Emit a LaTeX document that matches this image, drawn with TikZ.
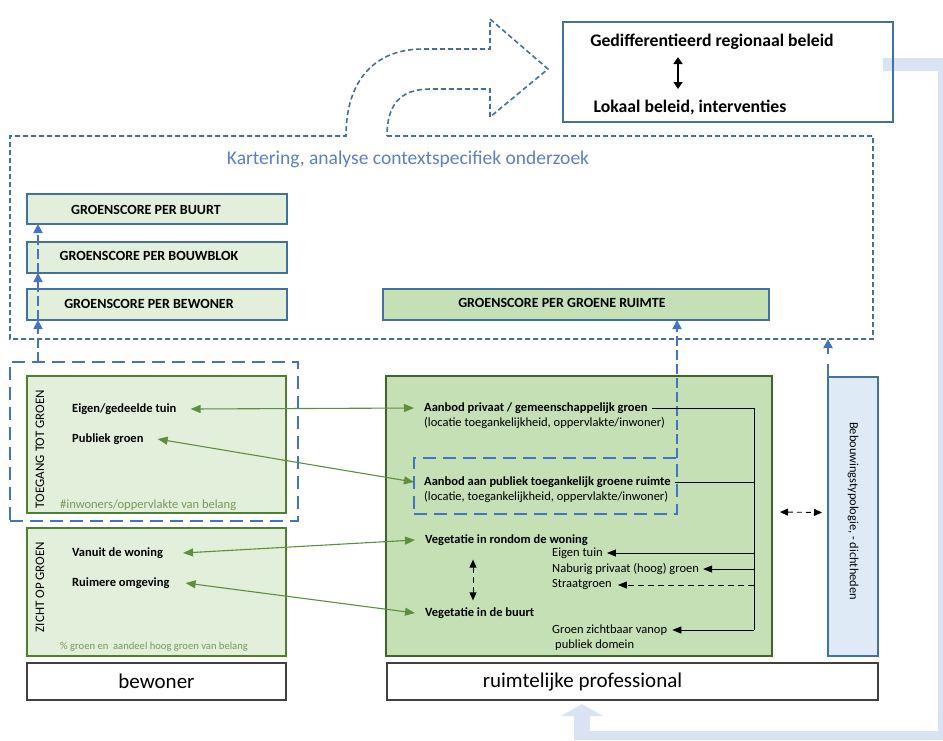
\documentclass[tikz,border=0pt]{standalone}
\usepackage{fontspec}
\setmainfont{Carlito}
\usetikzlibrary{arrows.meta}
\definecolor{steel}{HTML}{41719C}
\definecolor{bblue}{HTML}{4472C4}
\definecolor{kart}{HTML}{5B7FC9}
\definecolor{lgreen}{HTML}{E2EFDA}
\definecolor{mgreen}{HTML}{C5E0B4}
\definecolor{dgreen}{HTML}{507E32}
\definecolor{agreen}{HTML}{5F8F3E}
\definecolor{tgreen}{HTML}{769A58}
\definecolor{lblue}{HTML}{DEEBF7}
\definecolor{bandc}{HTML}{DAE3F3}
\definecolor{framec}{HTML}{404040}
\begin{document}
\begin{tikzpicture}[x=1pt,y=-1pt,
  box/.style={draw, inner sep=0pt, outer sep=0pt},
  scbox/.style={box, draw=steel, line width=1.8pt, fill=lgreen},
  scboxd/.style={box, draw=steel, line width=1.8pt, fill=mgreen},
  gbox/.style={box, draw=dgreen, line width=2.2pt, fill=lgreen},
  gboxd/.style={box, draw=dgreen, line width=2.2pt, fill=mgreen},
  wbox/.style={box, draw=framec, line width=1.3pt, fill=white},
  sctext/.style={font=\bfseries\fontsize{14}{16}\selectfont, inner sep=0pt},
  lbl/.style={font=\bfseries\fontsize{12.5}{15}\selectfont, inner sep=0pt, anchor=west},
  sublbl/.style={font=\fontsize{12.5}{15}\selectfont, inner sep=0pt, anchor=west},
  small/.style={font=\fontsize{12.5}{15}\selectfont, inner sep=0pt, anchor=west},
  note/.style={font=\fontsize{12.5}{14}\selectfont, text=tgreen, inner sep=0pt, anchor=west},
  vtext/.style={font=\fontsize{13}{15}\selectfont, inner sep=0pt, rotate=90},
  garrow/.style={draw=agreen, line width=1.1pt, {Triangle[length=10pt,width=8pt]}-{Triangle[length=10pt,width=8pt]}},
  barrow/.style={draw=bblue, line width=1.8pt, dash pattern=on 10pt off 4pt, -{Triangle[length=9pt,width=9pt]}},
  karline/.style={draw=steel, line width=1.6pt, dash pattern=on 5pt off 3pt},
  kline/.style={draw=black, line width=0.9pt},
  ktip/.style={kline, -{Triangle[length=9pt,width=7pt]}}
]
\useasboundingbox (0,0) rectangle (943,740);

% light blue feedback band
\fill[bandc] (883,58) -- (943,58) -- (943,740) -- (574,740) -- (574,716) -- (561,716)
  -- (582,704) -- (603,716) -- (590,716) -- (590,731) -- (938,731) -- (938,71) -- (883,71) -- cycle;

% policy box
\node[box, draw=steel, line width=1.8pt, minimum width=330pt, minimum height=100pt] (policy) at (728,72) {};
\node[font=\bfseries\fontsize{17.7}{20}\selectfont, inner sep=0pt] (gedif) at (712,42) {Gedifferentieerd regionaal beleid};
\node[font=\bfseries\fontsize{17.7}{20}\selectfont, inner sep=0pt] (lokaal) at (690,107) {Lokaal beleid, interventies};
\coordinate (pa) at (678,57);
\coordinate (pb) at (678,89);
\draw[line width=2.2pt, {Triangle[length=7pt,width=9pt]}-{Triangle[length=7pt,width=9pt]}] (pa) -- (pb);

% kartering dashed outline with curved arrow
\draw[karline] (387,136) -- (873,136) -- (873,339) -- (10,339) -- (10,136) -- (346,136)
  .. controls (346,80) and (375,49) .. (423,49) -- (490,49) -- (490,19) -- (548,69)
  -- (490,117) -- (490,89) -- (430,89) .. controls (400,89) and (387,105) .. (387,136);
\coordinate (kartSE) at (873,339);
\node[font=\fontsize{19.5}{22}\selectfont, text=kart, inner sep=0pt] (kartext) at (408,159) {Kartering, analyse contextspecifiek onderzoek};

% groenscore boxes
\node[scbox, minimum width=260pt, minimum height=30pt] (scbuurt) at (157,209) {};
\node[scbox, minimum width=260pt, minimum height=31pt] (scbouw) at (157,257.5) {};
\node[scbox, minimum width=260pt, minimum height=31pt] (scbew) at (157,304.5) {};
\node[scboxd, minimum width=386pt, minimum height=31pt] (scgr) at (576,304.5) {};
\node[sctext] (tbuurt) at (146,210) {GROENSCORE PER BUURT};
\node[sctext] (tbouw) at (149,256) {GROENSCORE PER BOUWBLOK};
\node[sctext] (tbew) at (149,304) {GROENSCORE PER BEWONER};
\node[sctext] (tgr) at (562,303) {GROENSCORE PER GROENE RUIMTE};

% bewoner side
\node[box, draw=bblue, line width=2.2pt, dash pattern=on 13pt off 7pt, minimum width=288pt, minimum height=159pt] (toegdash) at (154,441.5) {};
\node[gbox, minimum width=259pt, minimum height=137pt] (tg) at (156.5,444.5) {};
\node[gbox, minimum width=259pt, minimum height=128pt] (zg) at (156.5,592) {};
\node[wbox, minimum width=259pt, minimum height=37pt, font=\fontsize{21}{24}\selectfont] (bewoner) at (156.5,681.5) {bewoner};
\node[vtext] (toegtxt) at (40,449) {TOEGANG TOT GROEN};
\node[vtext] (zichttxt) at (40,587) {ZICHT OP GROEN};
\node[lbl] (eigen) at (72,409) {Eigen/gedeelde tuin};
\node[lbl] (publiek) at (72,439) {Publiek groen};
\node[lbl] (vanuit) at (72,553) {Vanuit de woning};
\node[lbl] (ruimere) at (72,583) {Ruimere omgeving};
\node[note] (inw) at (60,505) {\#inwoners/oppervlakte van belang};
\node[note, font=\fontsize{10.6}{12}\selectfont] (pct) at (60,647) {\% groen en\ \ aandeel hoog groen van belang};

% vertical blue dashed arrows (left)
\coordinate (col) at (38,362);
\draw[barrow] (col) -- (col |- scbew.south);
\draw[barrow] (col |- scbew.south) -- (col |- scbouw.south);
\draw[barrow] (col |- scbouw.south) -- (col |- scbuurt.south);

% professional side
\node[gboxd, draw=dgreen!80!black, minimum width=386pt, minimum height=280pt] (rg) at (579,516) {};
\node[box, draw=bblue, line width=2.2pt, dash pattern=on 13pt off 7pt, minimum width=263pt, minimum height=56pt] (pubdash) at (545.5,486) {};
\node[wbox, minimum width=491pt, minimum height=37pt] (ruimt) at (632.5,681.5) {};
\node[font=\fontsize{21}{24}\selectfont, inner sep=0pt] (ruimttxt) at (582.5,681.5) {ruimtelijke professional};
\node[box, draw=steel, line width=1.8pt, fill=lblue, minimum width=50pt, minimum height=279pt] (beb) at (853,516.5) {};
\node[font=\fontsize{12.4}{14}\selectfont, inner sep=0pt, rotate=-90] (bebtxt) at (853,511) {Bebouwingstypologie, - dichtheden};

\node[lbl] (aanpriv) at (424,408) {Aanbod privaat / gemeenschappelijk groen};
\node[sublbl] (aanprivsub) at (424,423) {(locatie toegankelijkheid, oppervlakte/inwoner)};
\node[lbl] (aanpub) at (424,482) {Aanbod aan publiek toegankelijk groene ruimte};
\node[sublbl] (aanpubsub) at (424,497) {(locatie, toegankelijkheid, oppervlakte/inwoner)};
\node[lbl] (vegwon) at (425,540) {Vegetatie in rondom de woning};
\node[lbl] (vegbuurt) at (425,613) {Vegetatie in de buurt};
\node[small] (eigentuin) at (552,553) {Eigen tuin};
\node[small] (naburig) at (552,569) {Naburig privaat (hoog) groen};
\node[small] (straat) at (552,585) {Straatgroen};
\node[small] (zicht1) at (552,630) {Groen zichtbaar vanop};
\node[small] (zicht2) at (555,645) {publiek domein};

% blue dashed arrows (right)
\draw[barrow] (pubdash.north east) -- (pubdash.north east |- scgr.south);
\draw[draw=bblue, line width=1.8pt, dash pattern=on 13pt off 10pt, -{Triangle[length=9pt,width=9pt]}] (beb.north west) -- (beb.north west |- kartSE);

% green connectors
\draw[garrow] ([xshift=14pt]eigen.east) -- ([xshift=-10pt]aanpriv.west);
\draw[garrow] ([xshift=14pt]publiek.east) -- ([xshift=-10pt]aanpub.west);
\draw[garrow] ([xshift=20pt]vanuit.east) -- ([xshift=-10pt]vegwon.west);
\draw[garrow] ([xshift=16pt]ruimere.east) -- ([xshift=-10pt]vegbuurt.west);

% black connectors
\coordinate (bus) at (754,0);
\coordinate (vcol) at (473,0);
\draw[kline] ([xshift=4pt]aanpriv.east) -- (aanpriv.east -| bus);
\draw[kline] ([xshift=4pt]aanpub.east) -- (aanpub.east -| bus);
\draw[kline] (aanpriv.east -| bus) -- (zicht1.east -| bus);
\draw[ktip] (eigentuin.east -| bus) -- ([xshift=4pt]eigentuin.east);
\draw[ktip] (naburig.east -| bus) -- ([xshift=4pt]naburig.east);
\draw[ktip, dash pattern=on 6pt off 4pt] (straat.east -| bus) -- ([xshift=6pt]straat.east);
\draw[ktip] (zicht1.east -| bus) -- ([xshift=5pt]zicht1.east);
\draw[kline, dash pattern=on 6pt off 4pt, {Triangle[length=8pt,width=7pt]}-{Triangle[length=8pt,width=7pt]}] ([yshift=-14pt]vegwon.south -| vcol) -- ([yshift=7pt]vegbuurt.north -| vcol);
\draw[kline, dash pattern=on 5pt off 4pt, {Triangle[length=8pt,width=7pt]}-{Triangle[length=8pt,width=7pt]}] ([xshift=8pt,yshift=4pt]rg.east) -- ([xshift=-6pt,yshift=4pt]beb.west);
\end{tikzpicture}
\end{document}
